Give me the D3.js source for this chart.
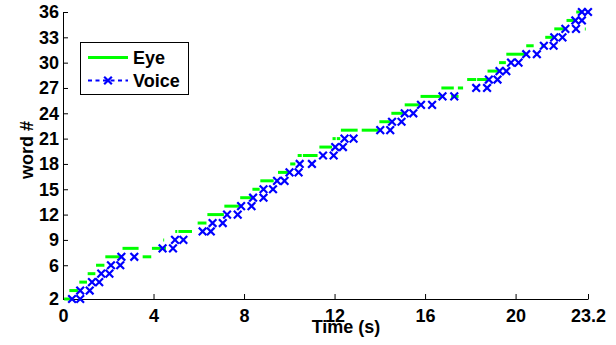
<!DOCTYPE html>
<html>
<head>
<meta charset="utf-8">
<script src="https://cdn.jsdelivr.net/npm/d3@7"></script>
<style>
  body { margin: 0; background: #fff; }
  svg { display: block; font-family: "Liberation Sans", Arial, sans-serif; font-weight: bold; }
</style>
</head>
<body>
<svg id="chart" width="616" height="345"></svg>
<script>
// eye fixations: word index, start and end time (s)
const eyeWord  = [2, 3, 4, 5, 6, 7, 7, 8, 8, 9, 10, 10, 11, 12, 13, 14, 15, 16, 17, 18, 19, 19, 20, 21, 21, 22, 22, 23, 24, 25, 26, 26, 27, 27, 28, 28, 29, 30, 31, 32, 32, 33, 34, 34, 35, 36];
const eyeStart = [0.05, 0.28, 0.72, 1.09, 1.46, 1.87, 3.52, 2.63, 3.93, 4.43, 4.96, 5.10, 5.95, 6.38, 7.13, 7.83, 8.37, 8.72, 9.50, 10.04, 10.37, 10.60, 11.33, 11.91, 12.10, 12.28, 13.20, 13.98, 14.51, 15.10, 15.80, 17.15, 16.72, 17.45, 17.86, 18.30, 18.76, 19.27, 19.59, 20.47, 21.14, 21.31, 21.71, 23.06, 22.25, 22.68];
const eyeEnd   = [0.35, 0.66, 1.06, 1.43, 1.83, 2.56, 3.90, 3.34, 4.55, 4.47, 5.05, 5.70, 6.34, 7.11, 7.81, 8.35, 8.69, 9.31, 9.97, 10.27, 10.55, 11.25, 11.89, 12.05, 12.25, 13.02, 13.95, 14.45, 15.03, 15.74, 16.75, 17.48, 17.27, 17.68, 18.26, 18.76, 19.28, 19.57, 20.43, 20.80, 21.26, 21.67, 22.14, 23.10, 22.64, 22.92];

// voice: word index, onset and offset time (s)
const voiceWord  = [2, 3, 4, 5, 6, 7, 8, 9, 10, 11, 12, 13, 14, 15, 16, 17, 18, 19, 20, 21, 22, 23, 24, 25, 26, 27, 28, 29, 30, 31, 32, 33, 34, 35, 36];
const voiceStart = [0.40, 0.76, 1.28, 1.69, 2.12, 2.58, 4.40, 4.95, 6.17, 6.61, 7.25, 7.87, 8.40, 8.86, 9.46, 10.01, 10.46, 11.49, 12.03, 12.44, 14.02, 14.54, 15.10, 15.82, 16.77, 18.26, 18.82, 19.29, 19.80, 20.47, 21.25, 21.71, 22.20, 22.64, 22.93];
const voiceEnd   = [0.76, 1.18, 1.60, 2.05, 2.53, 3.15, 4.86, 5.32, 6.53, 7.06, 7.72, 8.33, 8.86, 9.28, 9.79, 10.41, 11.00, 11.96, 12.37, 12.84, 14.46, 14.96, 15.48, 16.31, 17.29, 18.74, 19.20, 19.59, 20.13, 20.94, 21.68, 22.07, 22.67, 22.93, 23.20];

const xTicks = [0, 4, 8, 12, 16, 20, 23.2];
const yTicks = [2, 6, 9, 12, 15, 18, 21, 24, 27, 30, 33, 36];

const EYE_COLOR = '#00ff00';
const VOICE_COLOR = '#0000ff';

let svg = d3.select('#chart');

let x = d3.scaleLinear().domain([0, 23.2]).range([63, 588]);
let y = d3.scaleLinear().domain([2, 36]).range([299, 12]);

// axes (ticks point inward, no box)
let xAxis = svg.append('g')
  .attr('transform', 'translate(0,299)')
  .call(d3.axisBottom(x).tickValues(xTicks).tickSizeInner(-5).tickSizeOuter(0).tickPadding(10)
    .tickFormat(d => d3.format('~g')(d)));

let yAxis = svg.append('g')
  .attr('transform', 'translate(63,0)')
  .call(d3.axisLeft(y).tickValues(yTicks).tickSizeInner(-5).tickSizeOuter(0).tickPadding(4));

[xAxis, yAxis].forEach(g => {
  g.selectAll('path, line').attr('stroke', '#000').attr('stroke-width', 1);
  g.selectAll('text').attr('fill', '#000').style('font-size', '18px').style('font-weight', 'bold')
    .style('font-family', '"Liberation Sans", Arial, sans-serif');
});

// axis titles
svg.append('text')
  .attr('x', 346).attr('y', 333)
  .attr('text-anchor', 'middle')
  .style('font-size', '18px')
  .text('Time (s)');

svg.append('text')
  .attr('transform', 'translate(33,150) rotate(-90)')
  .attr('text-anchor', 'middle')
  .style('font-size', '18px')
  .text('word #');

// eye segments
let eyeIdx = d3.range(eyeWord.length);
svg.append('g').selectAll('line')
  .data(eyeIdx)
  .join('line')
  .attr('x1', i => x(eyeStart[i]))
  .attr('x2', i => x(eyeEnd[i]))
  .attr('y1', i => y(eyeWord[i]))
  .attr('y2', i => y(eyeWord[i]))
  .attr('stroke', EYE_COLOR)
  .attr('stroke-width', 3);

// voice markers (onset and offset)
let voicePts = [];
voiceWord.forEach((w, i) => {
  voicePts.push({ t: voiceStart[i], w: w });
  voicePts.push({ t: voiceEnd[i], w: w });
});

let cross = d3.symbol().type(d3.symbolX).size(40);

svg.append('g').selectAll('path')
  .data(voicePts)
  .join('path')
  .attr('transform', d => 'translate(' + x(d.t) + ',' + y(d.w) + ')')
  .attr('d', cross)
  .attr('fill', 'none')
  .attr('stroke', VOICE_COLOR)
  .attr('stroke-width', 2.2);

// legend
let legend = svg.append('g');
legend.append('rect')
  .attr('x', 80.5).attr('y', 42.5)
  .attr('width', 108).attr('height', 52)
  .attr('fill', '#fff').attr('stroke', '#000').attr('stroke-width', 1);

legend.append('line')
  .attr('x1', 88).attr('x2', 128).attr('y1', 57.5).attr('y2', 57.5)
  .attr('stroke', EYE_COLOR).attr('stroke-width', 3);
legend.append('text')
  .attr('x', 133).attr('y', 64)
  .style('font-size', '18px')
  .text('Eye');

legend.append('line')
  .attr('x1', 88).attr('x2', 128).attr('y1', 80.5).attr('y2', 80.5)
  .attr('stroke', VOICE_COLOR).attr('stroke-width', 2)
  .attr('stroke-dasharray', '4,3.5');
legend.append('path')
  .attr('transform', 'translate(108,80.5)')
  .attr('d', cross)
  .attr('fill', 'none')
  .attr('stroke', VOICE_COLOR)
  .attr('stroke-width', 2.2);
legend.append('text')
  .attr('x', 133).attr('y', 87)
  .style('font-size', '18px')
  .text('Voice');
</script>
</body>
</html>
